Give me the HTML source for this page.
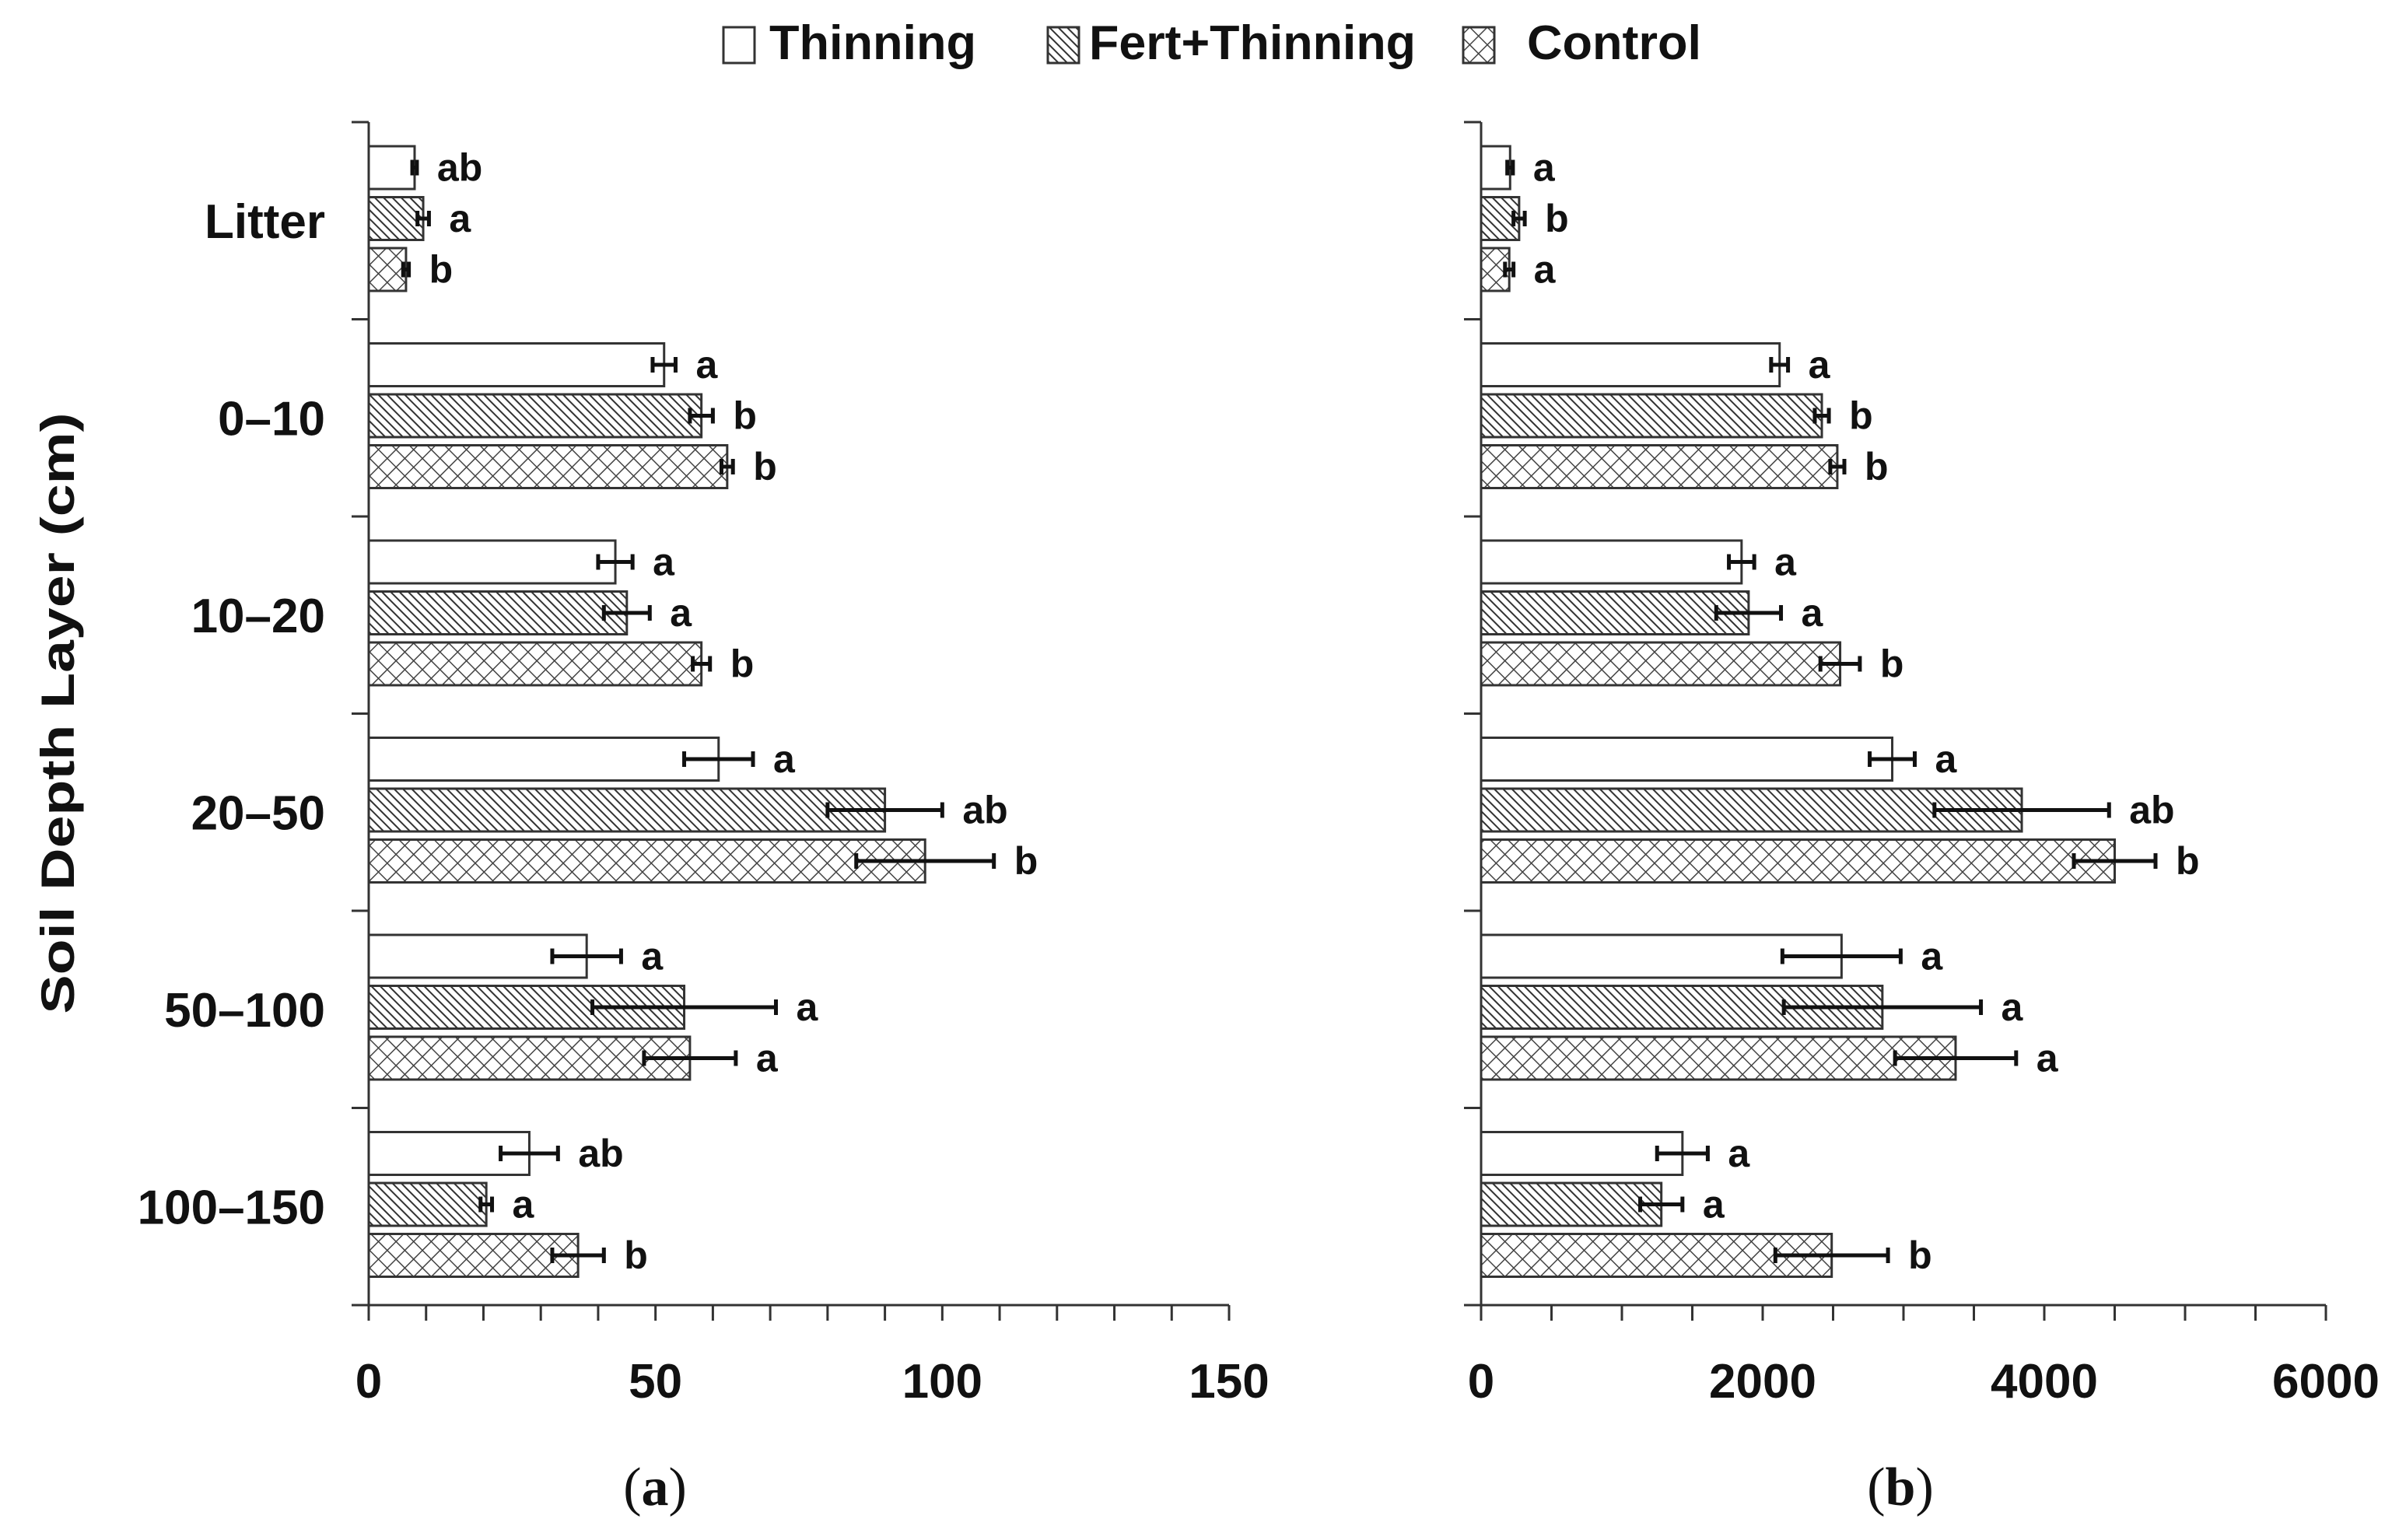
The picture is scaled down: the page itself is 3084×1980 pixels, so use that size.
<!DOCTYPE html>
<html><head><meta charset="utf-8"><style>
html,body{margin:0;padding:0;background:#fff}
svg{display:block}
text{font-family:"Liberation Sans",sans-serif;font-weight:bold;fill:#111}
</style></head><body>
<svg id="chart" width="3084" height="1980" viewBox="0 0 3084 1980" xmlns="http://www.w3.org/2000/svg">
<defs>
<pattern id="hatch" patternUnits="userSpaceOnUse" width="8" height="8" patternTransform="rotate(-45)">
<rect width="8" height="8" fill="#fff"/><line x1="0" y1="0" x2="0" y2="8" stroke="#333" stroke-width="4"/>
</pattern>
<pattern id="cross" patternUnits="userSpaceOnUse" width="16" height="16" patternTransform="rotate(45)">
<rect width="16" height="16" fill="#fff"/><line x1="0" y1="0" x2="0" y2="16" stroke="#444" stroke-width="3"/><line x1="0" y1="0" x2="16" y2="0" stroke="#444" stroke-width="3"/>
</pattern>
</defs>
<g>
<rect x="930" y="35" width="40" height="46" fill="#fff" stroke="#333" stroke-width="3"/>
<text x="989" y="76" font-size="62" textLength="266" lengthAdjust="spacingAndGlyphs">Thinning</text>
<rect x="1347" y="35" width="40" height="46" fill="url(#hatch)" stroke="#333" stroke-width="3"/>
<text x="1400" y="76" font-size="62" textLength="420" lengthAdjust="spacingAndGlyphs">Fert+Thinning</text>
<rect x="1881" y="35" width="40" height="46" fill="url(#cross)" stroke="#333" stroke-width="3"/>
<text x="1963" y="76" font-size="62" textLength="224" lengthAdjust="spacingAndGlyphs">Control</text>
</g>
<text transform="translate(95,917) rotate(-90)" text-anchor="middle" font-size="60" textLength="773" lengthAdjust="spacingAndGlyphs">Soil Depth Layer (cm)</text>
<text x="842" y="1935" text-anchor="middle" font-size="70" style="font-family:'Liberation Serif',serif;font-weight:normal">(<tspan font-weight="bold">a</tspan>)</text>
<text x="2443" y="1935" text-anchor="middle" font-size="70" style="font-family:'Liberation Serif',serif;font-weight:normal">(<tspan font-weight="bold">b</tspan>)</text>
</svg>
<script>
const categories = ["Litter","0\u201310","10\u201320","20\u201350","50\u2013100","100\u2013150"];
const seriesNames = ["Thinning","Fert+Thinning","Control"];
const aThinning = [8,51.5,43,61,38,28];
const aFert = [9.5,58,45,90,55,20.5];
const aControl = [6.5,62.5,58,97,56,36.5];
const aThinningErr = [0.4,2,3,6,6,5];
const aFertErr = [1,2,4,10,16,1];
const aControlErr = [0.5,1,1.5,12,8,4.5];
const aThinningLet = ["ab","a","a","a","a","ab"];
const aFertLet = ["a","b","a","ab","a","a"];
const aControlLet = ["b","b","b","b","a","b"];
const aTicks = [0,50,100,150];
const bThinning = [206,2120,1850,2920,2560,1430];
const bFert = [270,2420,1900,3840,2850,1280];
const bControl = [200,2530,2550,4500,3370,2490];
const bThinningErr = [20,60,90,160,420,180];
const bFertErr = [40,50,230,620,700,150];
const bControlErr = [30,50,140,290,430,400];
const bThinningLet = ["a","a","a","a","a","a"];
const bFertLet = ["b","b","a","ab","a","a"];
const bControlLet = ["a","b","b","b","a","b"];
const bTicks = [0,2000,4000,6000];

const NS="http://www.w3.org/2000/svg";
const svg=document.getElementById('chart');
function mk(tag,attrs,parent){const e=document.createElementNS(NS,tag);for(const k in attrs)e.setAttribute(k,attrs[k]);(parent||svg).appendChild(e);return e;}
const top0=157,bot=1678,gh=(bot-top0)/categories.length;
const fills=["#fff","url(#hatch)","url(#cross)"];

function panel(id,x0,x1,max,minorStep,ticks,vals,errs,lets){
  const sx=v=>x0+(v/max)*(x1-x0);
  const g=mk('g',{});
  
  
  const ya=mk('line',{x1:x0,y1:top0,x2:x0,y2:bot,stroke:'#333','stroke-width':3},g);
  
  
  for(let i=0;i<=categories.length;i++){
    const t=mk('line',{x1:x0-22,y1:top0+i*gh,x2:x0,y2:top0+i*gh,stroke:'#333','stroke-width':3},g);
    
    
  }
  const xa=mk('line',{x1:x0-22,y1:bot,x2:x1,y2:bot,stroke:'#333','stroke-width':3},g);
  
  
  for(let v=0;v<=max+1e-6;v+=minorStep){
    const t=mk('line',{x1:sx(v),y1:bot,x2:sx(v),y2:bot+20,stroke:'#333','stroke-width':3},g);
    
    
  }
  ticks.forEach(v=>{
    const t=mk('text',{x:sx(v),y:1797,'text-anchor':'middle','font-size':62},g);
    t.textContent=v;
    
    
  });
  categories.forEach((c,i)=>{
    for(let s=0;s<3;s++){
      const y=top0+i*gh+31+s*65.5, h=55, v=vals[s][i], e=errs[s][i];
      const r=mk('rect',{x:x0,y:y,width:sx(v)-x0,height:h,fill:fills[s],stroke:'#333','stroke-width':3},g);
      
      
      const cy=y+h/2;
      const el=mk('path',{d:`M${sx(v-e)},${cy}H${sx(v+e)}M${sx(v-e)},${cy-10}V${cy+10}M${sx(v+e)},${cy-10}V${cy+10}`,stroke:'#111','stroke-width':5,fill:'none'},g);
      
      
      const lt=mk('text',{x:sx(v+e)+26,y:cy+17,'font-size':50},g);
      lt.textContent=lets[s][i];
      
      
    }
  });
}
categories.forEach((c,i)=>{
  const t=mk('text',{x:418,y:top0+i*gh+gh/2+22,'text-anchor':'end','font-size':62});
  t.textContent=c;
  
  
});
panel('panel-a',474,1580,150,10,aTicks,[aThinning,aFert,aControl],[aThinningErr,aFertErr,aControlErr],[aThinningLet,aFertLet,aControlLet]);
panel('panel-b',1904,2990,6000,500,bTicks,[bThinning,bFert,bControl],[bThinningErr,bFertErr,bControlErr],[bThinningLet,bFertLet,bControlLet]);
</script>
</body></html>
